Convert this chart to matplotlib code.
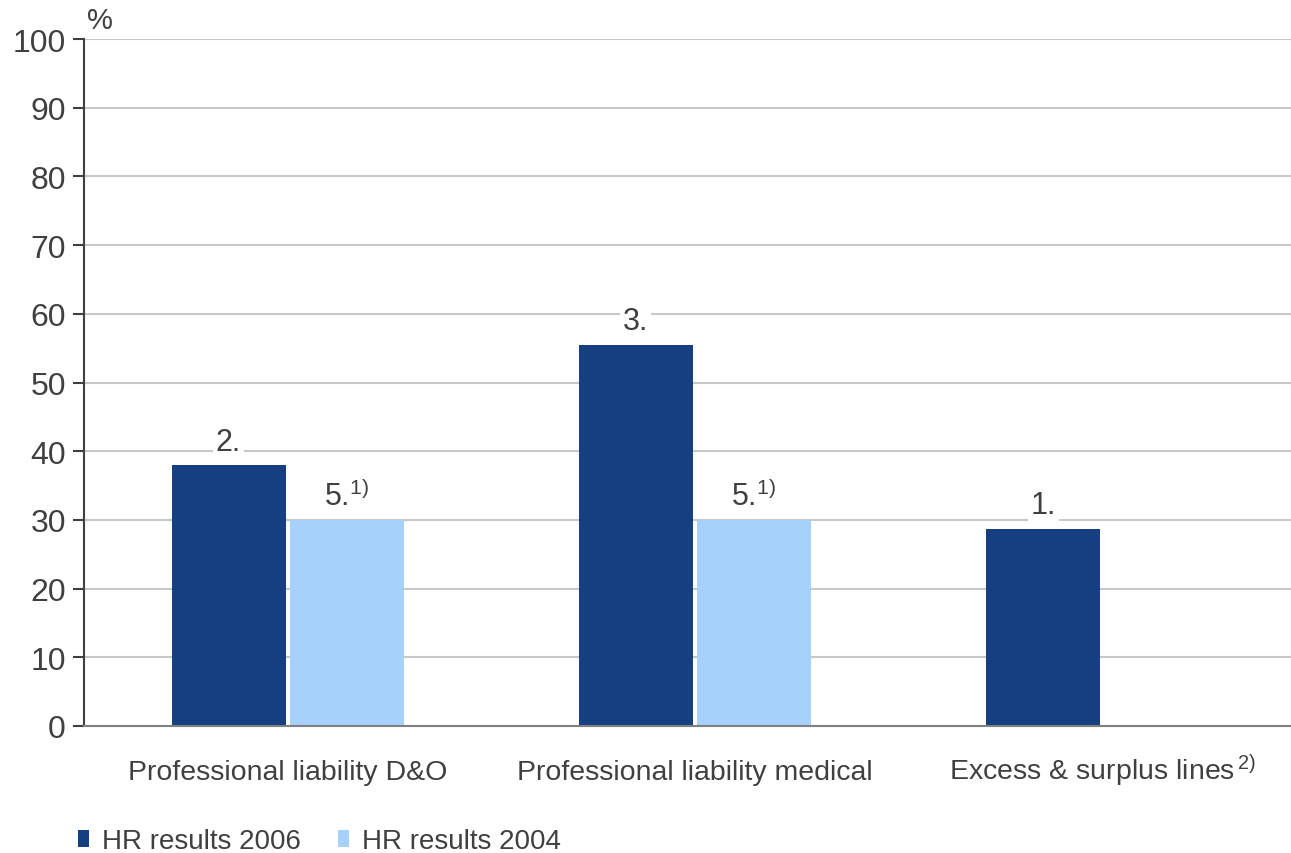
import matplotlib
matplotlib.use("Agg")
import matplotlib.pyplot as plt
from matplotlib.patches import Patch
import numpy as np

# Data
categories = ["Professional liability D&O", "Professional liability medical",
              r"Excess & surplus lines$^{\,2)}$"]
values_2006 = [38.0, 55.5, 28.7]
values_2004 = [30.0, 30.0, np.nan]
ranks_2006 = ["2.", "3.", "1."]
ranks_2004 = [r"5.$^{1)}$", r"5.$^{1)}$", ""]
series_names = ["HR results 2006", "HR results 2004"]
yticks = list(range(0, 101, 10))

dark = "#153F80"
light = "#A6D1FB"
text_col = "#404040"

plt.rcParams["font.family"] = ["Liberation Sans", "DejaVu Sans"]
plt.rcParams["mathtext.default"] = "regular"

fig = plt.figure(figsize=(12.91, 8.54), dpi=100)
ax = fig.add_axes([84 / 1291, 127 / 854, (1306 - 84) / 1291, 687 / 854])

x = np.arange(len(categories))
w = 0.28
off = 0.145
b1 = ax.bar(x - off, values_2006, w, color=dark, zorder=2)
b2 = ax.bar(x + off, values_2004, w, color=light, zorder=2)

# rank labels above the bars, white box breaks the gridline
for bars, labels in [(b1, ranks_2006), (b2, ranks_2004)]:
    for rect, lab in zip(bars, labels):
        if not lab:
            continue
        ax.annotate(lab, (rect.get_x() + rect.get_width() / 2, rect.get_height()),
                    xytext=(0, 6), textcoords="offset points", ha="center", va="bottom",
                    fontsize=22, color=text_col, zorder=3,
                    bbox=dict(facecolor="white", edgecolor="none", pad=2))

ax.set_xlim(-0.5, len(categories) - 0.5)
ax.set_ylim(0, 100)
ax.set_yticks(yticks)
ax.set_xticks(x)
ax.set_xticklabels(categories)
ax.tick_params(axis="y", labelsize=23, colors=text_col, length=8, width=1.5, pad=5)
ax.tick_params(axis="x", labelsize=20.5, colors=text_col, length=0, pad=38)
for t in ax.get_xticklabels():
    t.set_verticalalignment("baseline")

ax.yaxis.grid(True, color="#C8C8C8", linewidth=1.5, zorder=0)
ax.set_axisbelow(True)
for s in ["top", "right"]:
    ax.spines[s].set_visible(False)
ax.spines["left"].set_color(text_col)
ax.spines["left"].set_linewidth(1.5)
ax.spines["bottom"].set_color("#808080")
ax.spines["bottom"].set_linewidth(1.5)

fig.text(87 / 1291, 1 - 21 / 854, "%", fontsize=21, color=text_col, va="center", ha="left")

handles = [Patch(facecolor=dark), Patch(facecolor=light)]
fig.legend(handles, series_names, loc="center left", bbox_to_anchor=(78 / 1291, 1 - 842 / 854),
           ncol=2, frameon=False, fontsize=20, handlelength=0.4, handleheight=0.55,
           handletextpad=0.45, columnspacing=1.35, borderpad=0, borderaxespad=0,
           labelcolor=text_col)

fig.savefig("out.png", dpi=100)
